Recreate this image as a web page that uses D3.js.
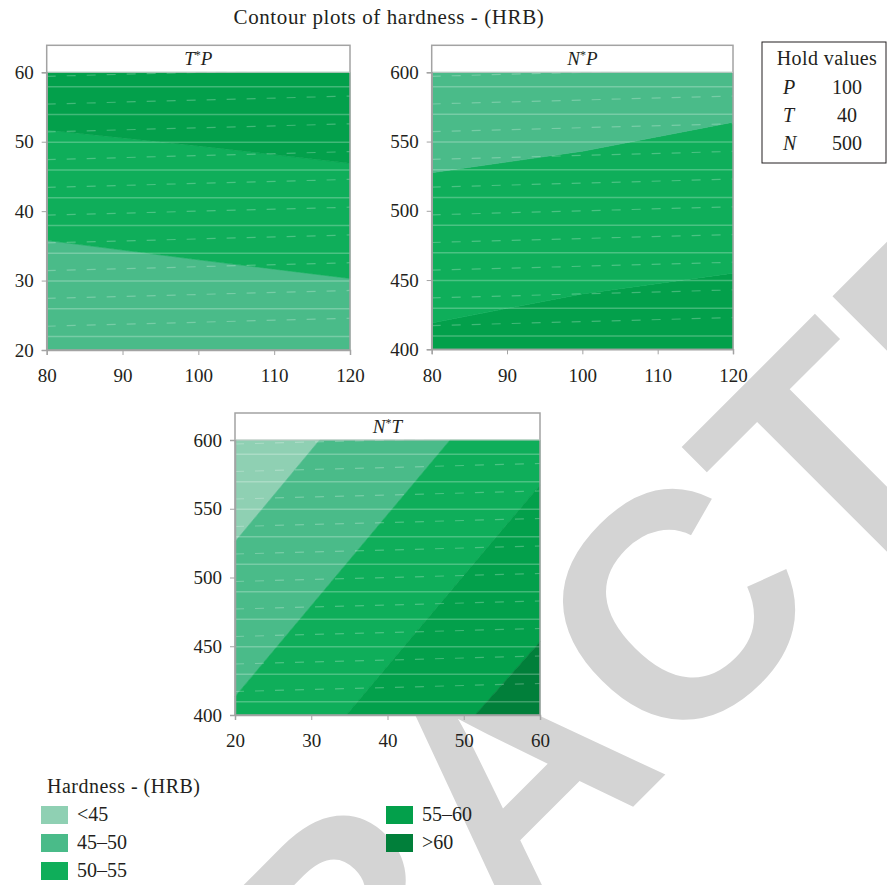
<!DOCTYPE html>
<html>
<head>
<meta charset="utf-8">
<script src="https://cdn.jsdelivr.net/npm/d3@7"></script>
<style>
  body { margin: 0; background: #fff; }
  svg { display: block; }
  text { font-family: "Liberation Serif", "Times New Roman", serif; fill: #231f20; }
</style>
</head>
<body>
<div id="viz"></div>
<script>
// hardness classes (legend order) and their fills
var levels = ["<45", "45\u201350", "50\u201355", "55\u201360", ">60"];
var levelColors = ["#8fd0b3", "#4abb89", "#0fae5a", "#03a04b", "#017f3a"];

// hold values
var holdNames = ["P", "T", "N"];
var holdValues = [100, 40, 500];

// contour bands: level index + polygon in data units
// T*P : x = P (80-120), y = T (20-60)
var tpBands = [
  { lev: 1, pts: [[80,20],[120,20],[120,30.3],[100,33],[80,35.8]] },
  { lev: 2, pts: [[80,35.8],[100,33],[120,30.3],[120,46.9],[100,49.4],[80,51.7]] },
  { lev: 3, pts: [[80,51.7],[100,49.4],[120,46.9],[120,60],[80,60]] }
];
// N*P : x = P (80-120), y = N (400-600)
var npBands = [
  { lev: 3, pts: [[80,400],[120,400],[120,455],[100,440],[80,419]] },
  { lev: 2, pts: [[80,419],[100,440],[120,455],[120,564],[100,543],[80,527.5]] },
  { lev: 1, pts: [[80,527.5],[100,543],[120,564],[120,600],[80,600]] }
];
// N*T : x = T (20-60), y = N (400-600)
var ntBands = [
  { lev: 0, pts: [[20,600],[31.1,600],[20,526]] },
  { lev: 1, pts: [[20,526],[31.1,600],[48.2,600],[20,413.3]] },
  { lev: 2, pts: [[20,413.3],[48.2,600],[60,600],[60,567.3],[34.6,400],[20,400]] },
  { lev: 3, pts: [[34.6,400],[60,567.3],[60,453.3],[51.5,400]] },
  { lev: 4, pts: [[51.5,400],[60,453.3],[60,400]] }
];

var pTicks = [80, 90, 100, 110, 120];
var tTicks = [20, 30, 40, 50, 60];
var nTicks = [400, 450, 500, 550, 600];

var W = 887, H = 885;
var svg = d3.select("#viz").append("svg").attr("width", W).attr("height", H);

// watermark behind everything
svg.append("text")
  .attr("transform", "translate(-108,1548) rotate(-45)")
  .style("font-family", "'Liberation Sans', Arial, sans-serif")
  .style("font-weight", "bold")
  .style("font-size", "320px")
  .style("fill", "#d4d4d4")
  .text("RETRACTED");

svg.append("text")
  .attr("x", 389).attr("y", 24)
  .attr("text-anchor", "middle")
  .style("font-size", "21px")
  .style("letter-spacing", "0.6px")
  .text("Contour plots of hardness - (HRB)");

function panel(box, xDom, yDom, xT, yT, bands, a, b) {
  var g = svg.append("g");
  var x = d3.scaleLinear().domain(xDom).range([box.l, box.r]);
  var y = d3.scaleLinear().domain(yDom).range([box.b, box.t]);

  // header strip
  g.append("rect")
    .attr("x", box.l).attr("y", box.t - 27)
    .attr("width", box.r - box.l).attr("height", 27)
    .attr("fill", "#fff");
  var ht = g.append("text")
    .attr("x", (box.l + box.r) / 2).attr("y", box.t - 7)
    .attr("text-anchor", "middle")
    .style("font-size", "19px");
  ht.append("tspan").style("font-style", "italic").text(a);
  ht.append("tspan").attr("dy", -6).style("font-size", "12px").text("*");
  ht.append("tspan").attr("dy", 6).style("font-style", "italic").text(b);

  var line = d3.line().x(d => x(d[0])).y(d => y(d[1]));
  g.append("g").selectAll("path")
    .data(bands)
    .enter()
    .append("path")
      .attr("d", d => line(d.pts) + "Z")
      .attr("fill", d => levelColors[d.lev])
      .attr("stroke", d => levelColors[d.lev])
      .attr("stroke-width", 0.6);

  // faint rendering texture lines like the source image
  var tex = g.append("g").attr("stroke", "#fff");
  tex.selectAll("line.s")
    .data(y.ticks(20).filter((d, i) => i % 2 == 1))
    .enter().append("line")
      .attr("x1", box.l).attr("x2", box.r)
      .attr("y1", d => y(d) + 0.5).attr("y2", d => y(d) + 0.5)
      .attr("stroke-opacity", 0.25).attr("stroke-width", 1.5);
  tex.selectAll("line.d")
    .data(y.ticks(20).filter((d, i) => i % 2 == 0 && i > 0))
    .enter().append("line")
      .attr("x1", box.l).attr("x2", box.r)
      .attr("y1", d => y(d) + 4).attr("y2", d => y(d) - 4)
      .attr("stroke-dasharray", "9,11")
      .attr("stroke-opacity", 0.25).attr("stroke-width", 1.2);

  // frame
  g.append("rect")
    .attr("x", box.l).attr("y", box.t - 27)
    .attr("width", box.r - box.l).attr("height", box.b - box.t + 27)
    .attr("fill", "none").attr("stroke", "#a3a3a3").attr("stroke-width", 1.5);
  g.append("line")
    .attr("x1", box.l).attr("x2", box.r).attr("y1", box.t).attr("y2", box.t)
    .attr("stroke", "#c8c8c8").attr("stroke-width", 1);

  var xa = g.append("g").attr("transform", "translate(0," + box.b + ")")
    .call(d3.axisBottom(x).tickValues(xT).tickSize(5).tickPadding(14));
  var ya = g.append("g").attr("transform", "translate(" + box.l + ",0)")
    .call(d3.axisLeft(y).tickValues(yT).tickSize(5).tickPadding(8));
  [xa, ya].forEach(function(ax) {
    ax.attr("font-family", "Liberation Serif").attr("font-size", 19);
    ax.select(".domain").attr("stroke", "#a3a3a3").attr("stroke-width", 1.5);
    ax.selectAll(".tick line").attr("stroke", "#a3a3a3");
    ax.selectAll("text")
      .style("font-family", "'Liberation Serif', serif")
      .style("font-size", "19px")
      .attr("fill", "#231f20");
  });
}

panel({ l: 46.7, r: 350, t: 72.3, b: 350 }, [80, 120], [20, 60], pTicks, tTicks, tpBands, "T", "P");
panel({ l: 431.7, r: 733, t: 72.3, b: 349.3 }, [80, 120], [400, 600], pTicks, nTicks, npBands, "N", "P");
panel({ l: 235, r: 540, t: 440, b: 715 }, [20, 60], [400, 600], tTicks, nTicks, ntBands, "N", "T");

// hold values box
var hb = svg.append("g");
hb.append("rect")
  .attr("x", 762).attr("y", 42).attr("width", 124).attr("height", 121)
  .attr("fill", "#fff").attr("stroke", "#231f20").attr("stroke-width", 1);
hb.append("text").attr("x", 827).attr("y", 65).attr("text-anchor", "middle")
  .style("font-size", "20px").style("letter-spacing", "0.4px").text("Hold values");
hb.selectAll("text.n")
  .data(holdNames)
  .enter().append("text")
    .attr("x", 783).attr("y", (d, i) => 94 + i * 28)
    .style("font-size", "20px").style("font-style", "italic")
    .text(d => d);
hb.selectAll("text.v")
  .data(holdValues)
  .enter().append("text")
    .attr("x", 847).attr("y", (d, i) => 94 + i * 28)
    .attr("text-anchor", "middle")
    .style("font-size", "20px")
    .text(d => d);

// legend
var lg = svg.append("g");
lg.append("text").attr("x", 47).attr("y", 793)
  .style("font-size", "20px").style("letter-spacing", "0.5px").text("Hardness - (HRB)");
var items = lg.selectAll("g.item")
  .data(levels)
  .enter().append("g")
    .attr("transform", function(d, i) {
      var col = i < 3 ? 0 : 1, row = i < 3 ? i : i - 3;
      return "translate(" + (41 + col * 345) + "," + (806 + row * 28) + ")";
    });
items.append("rect")
  .attr("width", 27).attr("height", 18)
  .attr("fill", (d, i) => levelColors[i]);
items.append("text")
  .attr("x", 36).attr("y", 15)
  .style("font-size", "20px")
  .text(d => d);
</script>
</body>
</html>
